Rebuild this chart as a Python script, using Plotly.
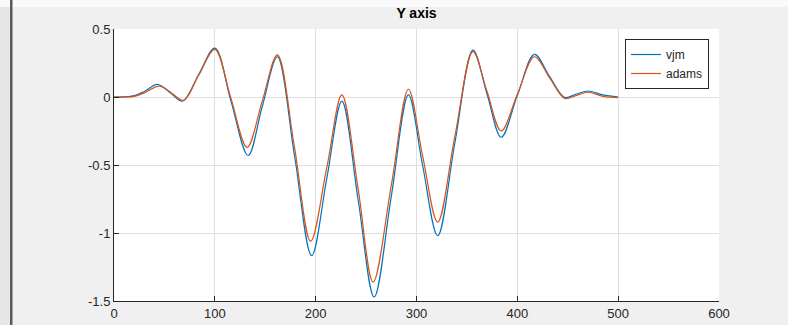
import plotly.graph_objects as go

# Data (extrema and intermediate points)
x_vjm = [0, 10, 20, 30, 43, 56, 68, 84, 100, 116, 133, 147, 162, 179, 196, 211, 226, 242, 258, 275,
         292, 306, 321, 338, 356, 370, 384, 400, 417, 432, 447, 458, 470, 485, 500]
y_vjm = [0, 0.001, 0.01, 0.04, 0.093, 0.03, -0.03, 0.165, 0.36, -0.03, -0.43, -0.07, 0.296, -0.43,
         -1.167, -0.6, -0.03, -0.75, -1.47, -0.73, 0.015, -0.5, -1.02, -0.34, 0.345, 0.02, -0.296,
         0.01, 0.314, 0.15, -0.003, 0.02, 0.044, 0.015, 0.0]

x_adams = [0, 10, 20, 30, 45, 57, 69, 84, 100, 116, 132, 147, 162, 179, 195, 211, 226, 242, 257, 275,
           292, 306, 321, 338, 356, 370, 384, 400, 417, 432, 447, 458, 470, 485, 500]
y_adams = [0, 0.0, 0.005, 0.03, 0.08, 0.03, -0.025, 0.16, 0.35, -0.01, -0.37, -0.03, 0.31, -0.37,
           -1.06, -0.52, 0.015, -0.67, -1.36, -0.65, 0.057, -0.43, -0.92, -0.29, 0.333, 0.04, -0.25,
           0.02, 0.296, 0.14, -0.01, 0.01, 0.035, 0.005, -0.005]

x_ticks = [0, 100, 200, 300, 400, 500, 600]
y_ticks = [-1.5, -1, -0.5, 0, 0.5]
y_tick_labels = ["-1.5", "-1", "-0.5", "0", "0.5"]
title_text = "Y axis"

FONT = "Liberation Sans, Arial, Helvetica, sans-serif"
TXT = "#262626"

fig = go.Figure()
fig.add_trace(go.Scatter(x=x_vjm, y=y_vjm, mode="lines", name="vjm",
                         line=dict(color="#0072BD", width=1.2, shape="spline", smoothing=1)))
fig.add_trace(go.Scatter(x=x_adams, y=y_adams, mode="lines", name="adams",
                         line=dict(color="#D95319", width=1.2, shape="spline", smoothing=1)))

L, R, T, B = 114, 69, 29, 24
W, H = 788, 325
pw, ph = W - L - R, H - T - B

def px(v):
    return (v - L) / pw

def py(v):
    return (H - B - v) / ph

shapes = [
    dict(type="rect", xref="paper", yref="paper", x0=px(0), x1=px(W), y0=py(0), y1=py(7),
         fillcolor="#fafafa", line=dict(width=0), layer="below"),
    dict(type="rect", xref="paper", yref="paper", x0=px(0), x1=px(10), y0=py(H), y1=py(7),
         fillcolor="#e6e6e6", line=dict(width=0), layer="below"),
    dict(type="rect", xref="paper", yref="paper", x0=px(10), x1=px(12.5), y0=py(H), y1=py(0),
         fillcolor="#5a5a5a", line=dict(width=0), layer="below"),
]

fig.update_layout(
    width=W, height=H, autosize=False,
    margin=dict(l=L, r=R, t=T, b=B, autoexpand=False),
    paper_bgcolor="#f0f0f0",
    plot_bgcolor="white",
    font=dict(family=FONT, size=13, color=TXT),
    title=dict(text="<b>" + title_text + "</b>", xref="paper", x=0.5, xanchor="center",
               yref="container", y=1 - 13 / H, yanchor="middle", font=dict(size=14, color="#000000")),
    showlegend=True,
    legend=dict(x=px(709), y=py(39), xanchor="right", yanchor="top",
                bgcolor="white", bordercolor="#262626", borderwidth=1,
                font=dict(size=12, color=TXT), itemwidth=30, tracegroupgap=0),
    shapes=shapes,
)
fig.update_xaxes(range=[0, 600], tickvals=x_ticks, ticks="inside", ticklen=5, tickcolor=TXT,
                 showline=True, linecolor=TXT, linewidth=1, showgrid=True, gridcolor="#dfdfdf",
                 zeroline=False, automargin=False, tickfont=dict(size=13, color=TXT))
fig.update_yaxes(range=[-1.5, 0.5], tickvals=y_ticks, ticktext=y_tick_labels, ticks="inside",
                 ticklen=5, tickcolor=TXT, showline=True, linecolor=TXT, linewidth=1,
                 showgrid=True, gridcolor="#dfdfdf", zeroline=False, automargin=False,
                 tickfont=dict(size=13, color=TXT))

post = (
    "document.documentElement.style.background='#f0f0f0';"
    "document.body.style.background='#f0f0f0';"
    "document.body.style.margin='0';document.body.style.overflow='hidden';"
)
fig.write_html("out.html", config={"displayModeBar": False, "responsive": False}, post_script=post)
